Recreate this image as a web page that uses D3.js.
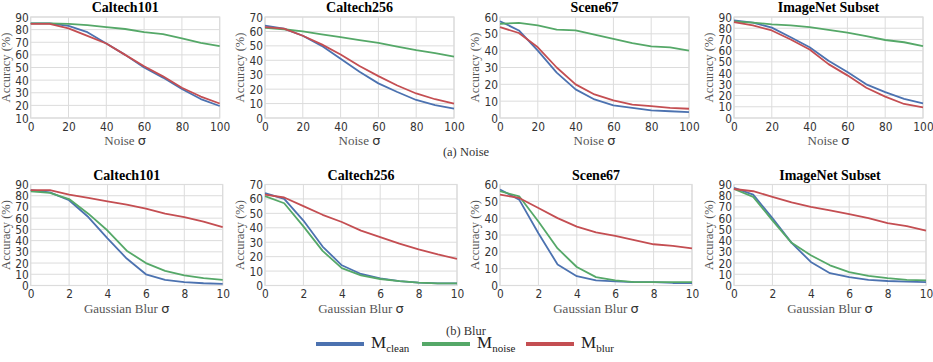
<!DOCTYPE html>
<html>
<head>
<meta charset="utf-8">
<script src="https://cdn.jsdelivr.net/npm/d3@7"></script>
<style>
  body { margin: 0; background: #fff; }
  svg { display: block; }
</style>
</head>
<body>
<div id="chart"></div>
<script>
// x values
const noiseX = [0, 10, 20, 30, 40, 50, 60, 70, 80, 90, 100];
const blurX = [0, 1, 2, 3, 4, 5, 6, 7, 8, 9, 10];

const titles = ["Caltech101", "Caltech256", "Scene67", "ImageNet Subset"];
const seriesNames = ["clean", "noise", "blur"];
const yTops = [90, 70, 60, 90];

// noise row (clean, noise, blur models)
const c101Noise = [
  [85, 85, 83, 78, 69, 60, 50, 42, 33, 25, 19.5],
  [85, 85, 84.5, 83.5, 82, 80.5, 78, 76.5, 73, 69.5, 67],
  [84.5, 84.5, 81, 75, 69, 60, 51, 43, 34, 27, 21.5]
];
const c256Noise = [
  [64, 62, 57, 50, 41, 32, 24, 18, 12.5, 9, 6.5],
  [62.5, 61.5, 60, 58, 56, 54, 52, 49.5, 47, 45, 42.5],
  [63, 62, 57, 51, 44, 36, 29, 22.5, 17, 13, 10]
];
const scene67Noise = [
  [57.5, 52, 40, 27, 17, 11, 7.5, 6, 4.5, 4, 3.5],
  [56, 56.5, 55, 52.5, 52, 49.5, 47, 44.5, 42.5, 42, 40],
  [54, 50.5, 42, 30, 20, 14, 10.5, 8, 7, 6, 5.5]
];
const imagenetNoise = [
  [87, 85, 80.5, 72, 63, 51, 41, 30, 23, 17, 13],
  [86, 85, 83.5, 82.5, 81, 78.5, 76, 73, 69.5, 67.5, 64],
  [85.5, 82.5, 78, 70, 61, 48, 38, 27, 19, 12.5, 9.5]
];

// blur row
const c101Blur = [
  [85, 83, 76, 61, 42, 24, 10, 5, 3, 2, 1.5],
  [84, 82.5, 77, 64, 49, 31, 20, 13, 9, 6.5, 5],
  [85, 85, 81, 78, 75, 72, 68.5, 64, 61, 57, 52]
];
const c256Blur = [
  [64, 60, 45, 27, 14, 8, 5, 3, 2, 1.5, 1.5],
  [62, 57, 41, 24, 12, 7, 4.5, 3, 2, 1.5, 1.5],
  [63, 61, 55, 49, 44, 38, 33.5, 29, 25, 21.5, 18.5]
];
const scene67Blur = [
  [57, 51, 31, 12.5, 5.5, 3, 2.5, 2, 2, 1.5, 1.5],
  [56, 53, 38, 22, 11, 5, 3, 2, 2, 2, 2],
  [54, 52, 46, 40, 35, 31.5, 29.5, 27, 24.5, 23.5, 22]
];
const imagenetBlur = [
  [87, 81, 60, 38, 21, 11, 7.5, 5, 4, 3.5, 3],
  [86, 79, 58, 38, 27, 18, 12, 8.5, 6.5, 5, 4.5],
  [86, 84, 79, 74, 70, 67, 63.5, 60, 55.5, 53, 49]
];

const colors = ["#4C72B0", "#55A868", "#C44E52"];
const gridColor = "#dcdcdc";
const tickFont = "'DejaVu Sans', sans-serif";
const serifFont = "'Liberation Serif', 'Times New Roman', serif";

const W = 933, H = 362;
const lefts = [30.7, 265, 500, 734];

const rows = [
  { top: 17, bottom: 118, width: 189, x: noiseX, xTicks: [0, 20, 40, 60, 80, 100],
    yBottoms: [10, 0, 0, 0], label: "Noise ", data: [c101Noise, c256Noise, scene67Noise, imagenetNoise] },
  { top: 184.5, bottom: 285.5, width: 192, x: blurX, xTicks: [0, 2, 4, 6, 8, 10],
    yBottoms: [0, 0, 0, 0], label: "Gaussian Blur ", data: [c101Blur, c256Blur, scene67Blur, imagenetBlur] }
];

const svg = d3.select("#chart").append("svg")
  .attr("width", W)
  .attr("height", H);

rows.forEach(row => {
  row.data.forEach((panel, i) => {
    const left = lefts[i];
    const x = d3.scaleLinear().domain(d3.extent(row.x)).range([left, left + row.width]);
    const y = d3.scaleLinear().domain([row.yBottoms[i], yTops[i]]).range([row.bottom, row.top]);
    const g = svg.append("g");

    const yTicks = d3.range(row.yBottoms[i], yTops[i] + 1, 10);

    // grid
    g.append("g").selectAll("line").data(yTicks).enter().append("line")
      .attr("x1", left).attr("x2", left + row.width)
      .attr("y1", d => y(d)).attr("y2", d => y(d))
      .attr("stroke", gridColor).attr("stroke-width", 1);
    g.append("g").selectAll("line").data(row.xTicks).enter().append("line")
      .attr("x1", d => x(d)).attr("x2", d => x(d))
      .attr("y1", row.top).attr("y2", row.bottom)
      .attr("stroke", gridColor).attr("stroke-width", 1);
    g.append("rect")
      .attr("x", left).attr("y", row.top)
      .attr("width", row.width).attr("height", row.bottom - row.top)
      .attr("fill", "none").attr("stroke", gridColor).attr("stroke-width", 1.2);

    // tick labels, narrow and tall like the original
    const yAxis = d3.axisLeft(y).tickValues(yTicks).tickSize(0).tickPadding(0);
    const ya = g.append("g").attr("transform", `translate(${left - 2},0)`).call(yAxis);
    const xAxis = d3.axisBottom(x).tickValues(row.xTicks).tickSize(0).tickPadding(4);
    const xa = g.append("g").attr("transform", `translate(0,${row.bottom})`).call(xAxis);
    [ya, xa].forEach(a => {
      a.select(".domain").remove();
      a.selectAll("text")
        .style("font-family", tickFont)
        .style("font-size", "12.5px")
        .attr("transform", "scale(0.85,1)")
        .attr("fill", "#333");
    });

    // lines
    const line = d3.line().x((d, j) => x(row.x[j])).y(d => y(d));
    panel.forEach((vals, s) => {
      g.append("path")
        .datum(vals)
        .attr("d", line)
        .attr("fill", "none")
        .attr("stroke", colors[s])
        .attr("stroke-width", 1.8)
        .attr("stroke-linejoin", "round");
    });

    // title
    g.append("text")
      .attr("x", left + row.width / 2)
      .attr("y", row.top - 5)
      .attr("text-anchor", "middle")
      .style("font-family", serifFont)
      .style("font-weight", "bold")
      .style("font-size", "14px")
      .text(titles[i]);

    // axis labels
    g.append("text")
      .attr("transform", `translate(${left - 21},${(row.top + row.bottom) / 2}) rotate(-90)`)
      .attr("text-anchor", "middle")
      .style("font-family", serifFont)
      .style("font-size", "12.5px")
      .attr("fill", "#555")
      .text("Accuracy (%)");

    const xl = g.append("text")
      .attr("x", left + row.width / 2)
      .attr("y", row.bottom + 27)
      .attr("text-anchor", "middle")
      .style("font-family", serifFont)
      .style("font-size", "13px")
      .attr("fill", "#555");
    xl.append("tspan").text(row.label);
    xl.append("tspan").style("font-family", tickFont).attr("fill", "#333").text("σ");
  });
});

// captions
[["(a) Noise", 156], ["(b) Blur", 335]].forEach(([t, yy]) => {
  svg.append("text")
    .attr("x", 466).attr("y", yy)
    .attr("text-anchor", "middle")
    .style("font-family", serifFont)
    .style("font-size", "12.5px")
    .attr("fill", "#333")
    .text(t);
});

// legend
const legendX = [316, 422, 526];
seriesNames.forEach((name, s) => {
  const lx = legendX[s];
  svg.append("line")
    .attr("x1", lx).attr("x2", lx + 48)
    .attr("y1", 344).attr("y2", 344)
    .attr("stroke", colors[s]).attr("stroke-width", 4);
  const t = svg.append("text")
    .attr("x", lx + 55).attr("y", 348)
    .style("font-family", serifFont)
    .style("font-size", "17px")
    .attr("fill", "#222");
  t.append("tspan").text("M");
  t.append("tspan").attr("dy", 4).style("font-size", "11px").text(name);
});
</script>
</body>
</html>
